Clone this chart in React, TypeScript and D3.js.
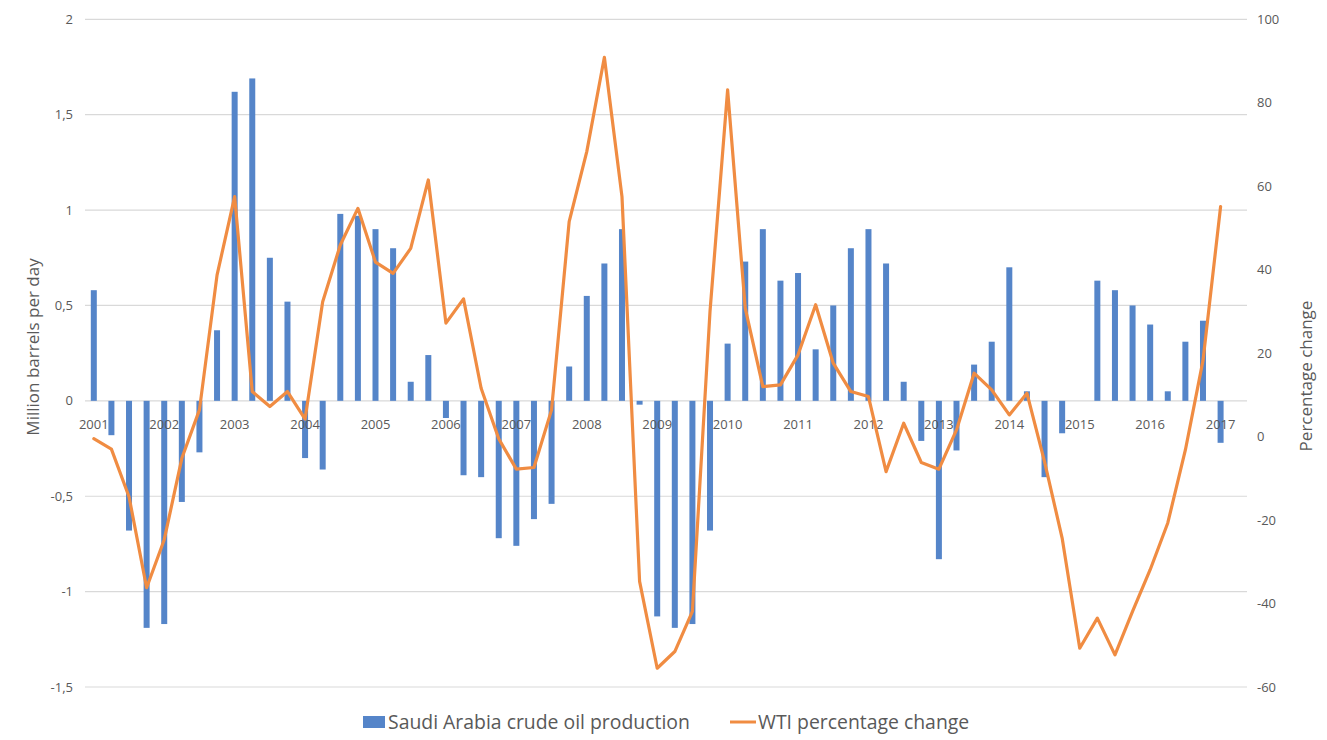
import React from "react";
import * as d3 from "d3";

const years = d3.range(2001, 2018).map(String);
// Quarterly categories 2001Q1 .. 2017Q2 (last slot empty)
const quarters: string[] = [];
for (let y = 2001; y <= 2017; y++) for (let q = 1; q <= 4; q++) if (quarters.length < 66) quarters.push(`${y}Q${q}`);

const saudiProduction: (number | null)[] = [
  0.58, -0.18, -0.68, -1.19, -1.17, -0.53, -0.27, 0.37, 1.62, 1.69, 0.75, 0.52,
  -0.30, -0.36, 0.98, 0.97, 0.90, 0.80, 0.10, 0.24, -0.09, -0.39, -0.40, -0.72,
  -0.76, -0.62, -0.54, 0.18, 0.55, 0.72, 0.90, -0.02, -1.13, -1.19, -1.17, -0.68,
  0.30, 0.73, 0.90, 0.63, 0.67, 0.27, 0.50, 0.80, 0.90, 0.72, 0.10, -0.21,
  -0.83, -0.26, 0.19, 0.31, 0.70, 0.05, -0.40, -0.17, 0, 0.63, 0.58, 0.50,
  0.40, 0.05, 0.31, 0.42, -0.22, null,
];

const wtiChange: (number | null)[] = [
  -0.5, -3.0, -14.4, -36.2, -24.7, -5.2, 6.4, 38.7, 57.5, 10.8, 7.2, 10.8,
  4.2, 32.3, 45.9, 54.7, 41.8, 39.1, 45.1, 61.5, 27.2, 33.0, 11.6, -0.5,
  -7.8, -7.4, 6.4, 51.5, 68.3, 90.9, 57.5, -34.7, -55.5, -51.5, -41.9, 30.0,
  83.1, 30.8, 12.0, 12.4, 19.6, 31.6, 17.6, 10.8, 9.6, -8.4, 3.2, -6.2,
  -7.8, 1.6, 15.2, 11.2, 5.2, 10.4, -6.0, -24.3, -50.7, -43.5, -52.3, -41.9,
  -31.9, -20.7, -3.2, 18.2, 55.1, null,
];

const leftTicks = [2, 1.5, 1, 0.5, 0, -0.5, -1, -1.5];
const rightTicks = [100, 80, 60, 40, 20, 0, -20, -40, -60];

const W = 1327;
const H = 740;
const left = 85;
const right = 1247;
const top = 19.3;
const bottom = 687;
const font = "'Open Sans', 'Noto Sans', sans-serif";
const textColor = "#595959";
const blue = "#5585C9";
const orange = "#F08C42";

const fmt = (v: number) => String(v).replace(".", ",");

export default function App() {
  const x = d3.scaleBand<string>().domain(quarters).range([left, right]).paddingInner(0).paddingOuter(0);
  const yL = d3.scaleLinear().domain([-1.5, 2]).range([bottom, top]);
  const yR = d3.scaleLinear().domain([-60, 100]).range([bottom, top]);
  const bw = 6;
  const cx = (q: string) => (x(q) as number) + x.bandwidth() / 2;

  const line = d3
    .line<number | null>()
    .defined((d) => d != null)
    .x((_, i) => cx(quarters[i]))
    .y((d) => yR(d as number));

  return (
    <div style={{ position: "absolute", left: 0, top: 0 }}>
      <svg width={W} height={H} style={{ display: "block", background: "#fff" }}>
        {leftTicks.map((t) => (
          <g key={"l" + t}>
            <line x1={left} x2={right} y1={yL(t)} y2={yL(t)} stroke="#D9D9D9" strokeWidth={1.2} />
            <text x={73} y={yL(t)} dy="0.35em" textAnchor="end" fontFamily={font} fontSize={13} fill={textColor}>
              {fmt(t)}
            </text>
          </g>
        ))}
        {rightTicks.map((t) => (
          <text key={"r" + t} x={1257} y={yR(t)} dy="0.35em" textAnchor="start" fontFamily={font} fontSize={13} fill={textColor}>
            {t}
          </text>
        ))}
        {saudiProduction.map((v, i) =>
          v == null || v === 0 ? null : (
            <rect
              key={"b" + i}
              x={cx(quarters[i]) - bw / 2}
              width={bw}
              y={Math.min(yL(v), yL(0))}
              height={Math.abs(yL(v) - yL(0))}
              fill={blue}
            />
          )
        )}
        {years.map((yr, k) => (
          <text key={"y" + yr} x={cx(quarters[k * 4])} y={424} dy="0.35em" textAnchor="middle" fontFamily={font} fontSize={13} fill={textColor}>
            {yr}
          </text>
        ))}
        <path d={line(wtiChange) || ""} fill="none" stroke={orange} strokeWidth={3.2} strokeLinejoin="round" strokeLinecap="round" />
        <text
          transform={`translate(33, 347) rotate(-90)`}
          textAnchor="middle"
          dy="0.35em"
          fontFamily={font}
          fontSize={17}
          fill={textColor}
        >
          Million barrels per day
        </text>
        <text
          transform={`translate(1306, 376) rotate(-90)`}
          textAnchor="middle"
          dy="0.35em"
          fontFamily={font}
          fontSize={17}
          fill={textColor}
        >
          Percentage change
        </text>
        <rect x={363} y={716} width={22} height={12} fill={blue} />
        <text x={388} y={722} dy="0.35em" fontFamily={font} fontSize={19.4} fill={textColor}>
          Saudi Arabia crude oil production
        </text>
        <line x1={730} x2={756} y1={722} y2={722} stroke={orange} strokeWidth={3} />
        <text x={758} y={722} dy="0.35em" fontFamily={font} fontSize={19.4} fill={textColor}>
          WTI percentage change
        </text>
      </svg>
    </div>
  );
}
